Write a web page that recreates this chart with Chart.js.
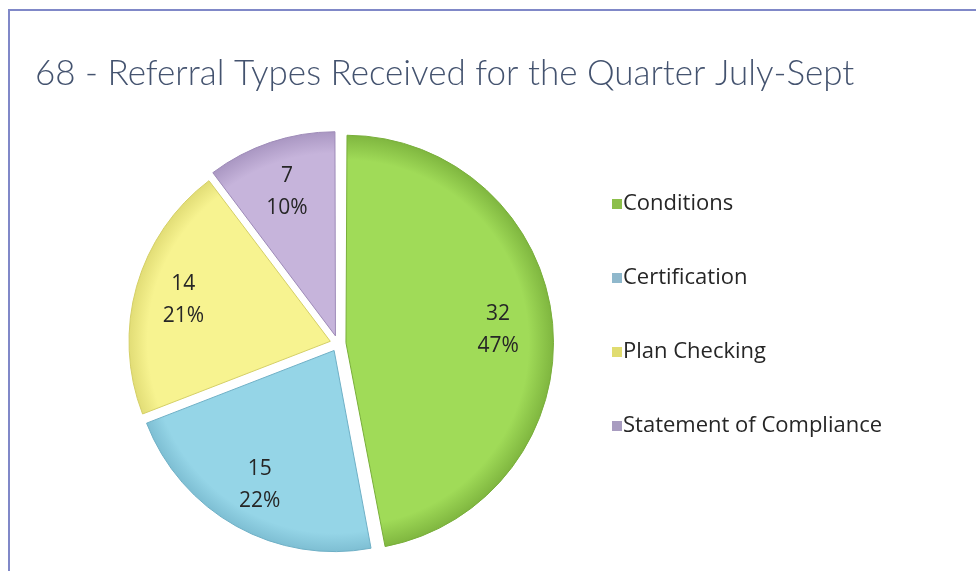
<!DOCTYPE html>
<html>
<head>
<meta charset="utf-8">
<script src="https://cdn.jsdelivr.net/npm/chart.js@4.4.1/dist/chart.umd.min.js"></script>
<style>
  html, body { margin: 0; padding: 0; background: #fff; }
  #wrap { position: relative; width: 976px; height: 571px; overflow: hidden; }
  #frame {
    position: absolute; left: 8px; top: 9px; right: -10px; bottom: -10px;
    border-left: 2px solid #8088c8; border-top: 2px solid #8088c8;
  }
  canvas { position: absolute; left: 0; top: 0; }
</style>
</head>
<body>
<div id="wrap">
  <div id="frame"></div>
  <canvas id="chart" width="976" height="571"></canvas>
</div>
<script>
// Referral types received, quarter July-Sept
const categories = ["Conditions", "Certification", "Plan Checking", "Statement of Compliance"];
const referrals = [32, 15, 14, 7];
const sliceColors = ["#a0db58", "#95d5e7", "#f7f390", "#c6b4db"];
const rimColors = ["#78ae3a", "#6fb0c6", "#d4cf66", "#9e8bb8"];
const legendColors = ["#8cbf4a", "#8fb8cc", "#e0dc70", "#a89cc0"];
const chartTitle = "68 - Referral Types Received for the Quarter July-Sept";

const total = referrals.reduce((a, b) => a + b, 0);

// radial shading, a little darker towards the rim
const shade = (ctx) => {
  const chart = ctx.chart;
  const i = ctx.dataIndex;
  const area = chart.chartArea;
  if (!area) return sliceColors[i];
  const cx = (area.left + area.right) / 2;
  const cy = (area.top + area.bottom) / 2;
  const r = Math.min(area.width, area.height) / 2;
  const g = chart.ctx.createRadialGradient(cx, cy, 0, cx, cy, r);
  g.addColorStop(0, sliceColors[i]);
  g.addColorStop(0.84, sliceColors[i]);
  g.addColorStop(0.98, rimColors[i]);
  return g;
};

// title spans wider than the pie area, so it is drawn here
// (the built-in title would be squeezed to the padded width)
const wideTitle = {
  id: "wideTitle",
  afterDraw(chart) {
    const { ctx } = chart;
    ctx.save();
    ctx.font = "300 35px Lato";
    ctx.fillStyle = "#44536f";
    ctx.textBaseline = "middle";
    ctx.fillText(chartTitle, 35, 74);
    ctx.restore();
  },
};

// value + percent inside each slice
const sliceLabels = {
  id: "sliceLabels",
  afterDatasetsDraw(chart) {
    const { ctx } = chart;
    const meta = chart.getDatasetMeta(0);
    ctx.save();
    ctx.font = "21px 'Open Sans'";
    ctx.fillStyle = "#262626";
    ctx.textAlign = "center";
    ctx.textBaseline = "middle";
    meta.data.forEach((arc, i) => {
      const { x, y, startAngle, endAngle, outerRadius } = arc.getProps(
        ["x", "y", "startAngle", "endAngle", "outerRadius"], true);
      const mid = (startAngle + endAngle) / 2;
      const r = outerRadius * 0.8;
      const lx = x + Math.cos(mid) * r;
      const ly = y + Math.sin(mid) * r;
      const pct = Math.round((referrals[i] / total) * 100) + "%";
      ctx.fillText(String(referrals[i]), lx, ly - 15);
      ctx.fillText(pct, lx, ly + 17);
    });
    ctx.restore();
  },
};

// legend column on the right
const sideLegend = {
  id: "sideLegend",
  afterDraw(chart) {
    const { ctx } = chart;
    ctx.save();
    ctx.font = "22px 'Open Sans'";
    ctx.textBaseline = "middle";
    categories.forEach((name, i) => {
      const y = 204 + i * 74;
      ctx.fillStyle = legendColors[i];
      ctx.fillRect(612, y - 5, 10, 10);
      ctx.fillStyle = "#262626";
      ctx.fillText(name, 623, y);
    });
    ctx.restore();
  },
};

new Chart(document.getElementById("chart").getContext("2d"), {
  type: "pie",
  data: {
    labels: categories,
    datasets: [
      {
        data: referrals,
        backgroundColor: shade,
        borderColor: rimColors,
        borderWidth: 1,
        offset: 32,
      },
    ],
  },
  options: {
    responsive: false,
    animation: false,
    layout: { padding: { left: 35, top: 126, right: 335, bottom: 10 } },
    plugins: {
      legend: { display: false },
      tooltip: { enabled: false },
      title: { display: false },
    },
  },
  plugins: [wideTitle, sliceLabels, sideLegend],
});
</script>
</body>
</html>
